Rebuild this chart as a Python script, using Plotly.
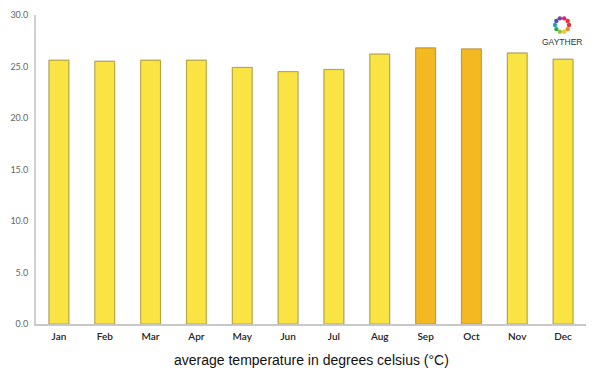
import math
import plotly.graph_objects as go

months = ["Jan", "Feb", "Mar", "Apr", "May", "Jun", "Jul", "Aug", "Sep", "Oct", "Nov", "Dec"]
temps = [25.6, 25.5, 25.6, 25.6, 24.9, 24.5, 24.7, 26.2, 26.8, 26.7, 26.3, 25.7]
highlight = ["Sep", "Oct"]
y_ticks = [0, 5, 10, 15, 20, 25, 30]
y_tick_text = ["0.0", "5.0", "10.0", "15.0", "20.0", "25.0", "30.0"]

colors = ["#F4B823" if m in highlight else "#F9E443" for m in months]
lines = ["#C99A1E" if m in highlight else "#B8A63A" for m in months]

fig = go.Figure()
# soft shadow bars
fig.add_trace(go.Bar(x=months, y=temps, marker=dict(color="rgba(0,0,0,0)",
                     line=dict(color="#CBC9DC", width=1.5)), hoverinfo="skip",
                     showlegend=False, offsetgroup=0))
fig.add_trace(go.Bar(x=months, y=temps, marker=dict(color=colors, line=dict(color=lines, width=1)),
                     showlegend=False, offsetgroup=0))

fig.update_layout(
    width=600, height=375,
    margin=dict(l=36, r=14, t=15, b=51),
    paper_bgcolor="white", plot_bgcolor="white",
    bargap=0.57, barmode="overlay",
    xaxis=dict(showgrid=False, showline=True, linecolor="#C8C8C8", linewidth=1.5,
               ticks="", automargin=False, ticklabelstandoff=2,
               tickfont=dict(family="Lato", size=10, color="#222222", weight=600)),
    yaxis=dict(range=[0, 30], tickvals=y_ticks, ticktext=y_tick_text, showgrid=False,
               showline=True, linecolor="#D0D0D0", linewidth=2, zeroline=False,
               ticks="", ticklabelstandoff=4, automargin=False,
               tickfont=dict(family="Lato", size=9, color="#666666")),
)

fig.add_annotation(x=0.5, y=-36 / 309, xref="paper", yref="paper", yanchor="middle",
                   xanchor="center",
                   text="average temperature in degrees celsius (°C)", showarrow=False,
                   font=dict(family="Liberation Sans", size=14, color="#111111"))

# logo: ring of colored dots + text
logo_colors = ["#E8312F", "#F0872A", "#F5C520", "#8CC63F", "#2EAA4A", "#1E9FD6", "#3B5BA9", "#7F3F98", "#D6247D", "#E8312F"]
cx, cy, r = 562, 25, 7
shapes = []
for i, c in enumerate(logo_colors):
    a = 2 * math.pi * i / len(logo_colors)
    x = cx + r * math.cos(a)
    y = cy + r * math.sin(a)
    shapes.append(dict(type="circle", xref="paper", yref="paper",
                       x0=(x - 2.2 - 36) / 550, x1=(x + 2.2 - 36) / 550,
                       y0=(324 - (y + 2.2)) / 309, y1=(324 - (y - 2.2)) / 309,
                       fillcolor=c, line=dict(width=0)))
fig.update_layout(shapes=shapes)
fig.add_annotation(x=(562 - 36) / 550, y=(324 - 42) / 309, xref="paper", yref="paper",
                   text="GAYTHER", showarrow=False, yanchor="middle", xanchor="center",
                   font=dict(family="Liberation Sans", size=8.5, color="#333333"))

fig.write_html("out.html", config={"displayModeBar": False},
               post_script="document.body.style.margin='0';")
